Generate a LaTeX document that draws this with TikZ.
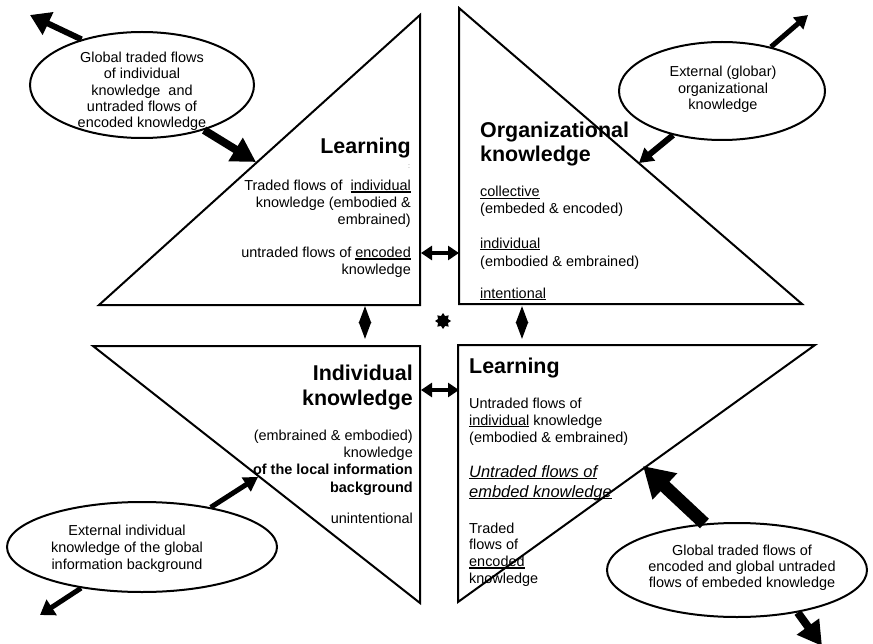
\documentclass[tikz,border=0pt]{standalone}
\usepackage{fontspec}
\setmainfont{Liberation Sans}
\usetikzlibrary{arrows.meta,shapes.geometric}
\newcommand\uln[1]{\setbox0\hbox{#1}\rlap{\rule[-2.4bp]{\wd0}{1.5bp}}\box0\relax}
\begin{document}
\begin{tikzpicture}[x=1bp,y=-1bp,
  tri/.style={draw, line width=2bp, fill=white, line join=miter},
  ell/.style={draw, ellipse, line width=2bp, fill=white, inner sep=0},
  small/.style={font=\fontsize{14.5}{17.3}\selectfont, inner sep=0},
  ttl/.style={font=\fontsize{21.5}{25}\selectfont\bfseries, inner sep=0},
  fat/.style n args={3}{line width=#1, -{Triangle[length=#2,width=#3]}},
  dbl/.style={line width=4bp, {Triangle[length=11bp,width=14bp]}-{Triangle[length=11bp,width=14bp]}},
  vd/.style={line width=2bp, {Triangle[length=17bp,width=12bp]}-{Triangle[length=17bp,width=12bp]}}
]
\useasboundingbox[fill=white] (0,0) rectangle (873,644);

% triangles
\draw[tri] (420,15) -- (420,305) -- (99,305) -- cycle;
\draw[tri] (459,8) -- (459,304) -- (802,304) -- cycle;
\draw[tri] (93,346) -- (420,346) -- (420,603) -- cycle;
\draw[tri] (458,345) -- (815,345) -- (458,602) -- cycle;

% ellipses
\node[ell, minimum width=224bp, minimum height=106bp] (e1) at (142,85) {};
\node[ell, minimum width=206bp, minimum height=98bp] (e2) at (722,91) {};
\node[ell, minimum width=270bp, minimum height=90bp] (e3) at (142,547) {};
\node[ell, minimum width=260bp, minimum height=94bp] (e4) at (737,570) {};

% ellipse texts (anchor base = last line's baseline)
\node[small, font=\fontsize{14.5}{16.5}\selectfont, align=center, anchor=base] (e1t) at (142,128)
  {Global traded flows\\of individual\\knowledge\ \ and\\untraded flows of\\encoded knowledge};
\node[small, font=\fontsize{14.5}{17}\selectfont, align=center, anchor=base] (e2t) at (723,110)
  {External (globar)\\organizational\\knowledge};
\node[small, font=\fontsize{14.5}{17}\selectfont, align=center, anchor=base] (e3t) at (127,569)
  {External individual\\knowledge of the global\\information background};
\node[small, font=\fontsize{14.5}{16}\selectfont, align=center, anchor=base] (e4t) at (742,587)
  {Global traded flows of\\encoded and global untraded\\flows of embeded knowledge};

% top-left triangle texts
\node[ttl, anchor=base east] (tl1) at (411,154) {Learning};
\node[inner sep=0, font=\fontsize{7}{7}\selectfont, text=gray] (tl0) at (409,167) {:};
\node[small, font=\fontsize{14.5}{17.5}\selectfont, align=right, anchor=base east] (tl2) at (411,225)
  {Traded flows of\ \ \uln{individual}\\knowledge (embodied \&\\embrained)};
\node[small, font=\fontsize{14.5}{16.5}\selectfont, align=right, anchor=base east] (tl3) at (411,274)
  {untraded flows of \uln{encoded}\\knowledge};

% top-right triangle texts
\node[ttl, align=left, anchor=base west] (tr1) at (480,162) {Organizational\\knowledge};
\node[small, align=left, anchor=base west] (tr2) at (480,214) {\uln{collective}\\(embeded \& encoded)};
\node[small, font=\fontsize{14.5}{18}\selectfont, align=left, anchor=base west] (tr3) at (480,266) {\uln{individual}\\(embodied \& embrained)};
\node[small, anchor=base west] (tr4) at (480,298) {\uln{intentional}};

% bottom-left triangle texts
\node[ttl, align=right, anchor=base east] (bl1) at (413,405) {Individual\\knowledge};
\node[small, align=right, anchor=base east] (bl2) at (413,492)
  {(embrained \& embodied)\\knowledge\\\textbf{of the local information}\\\textbf{background}};
\node[small, anchor=base east] (bl3) at (413,523) {unintentional};

% bottom-right triangle texts
\node[ttl, anchor=base west] (br1) at (469,373) {Learning};
\node[small, font=\fontsize{14.5}{17}\selectfont, align=left, anchor=base west] (br2) at (469,442)
  {Untraded flows of\\\uln{individual} knowledge\\(embodied \& embrained)};
\node[small, font=\fontsize{16.5}{20}\selectfont\itshape, align=left, anchor=base west] (br3) at (469,497)
  {\uln{Untraded flows of}\\\uln{embded knowledge}};
\node[small, font=\fontsize{14.5}{16.7}\selectfont, align=left, anchor=base west] (br4) at (469,583)
  {Traded\\flows of\\\uln{encoded}\\knowledge};

% arrow end points
\coordinate (t1) at (30,15);
\coordinate (t2) at (256,162);
\coordinate (t3) at (808,15);
\coordinate (t4) at (639,163);
\coordinate (t5) at (258,477);
\coordinate (t6) at (40,615);
\coordinate (t7) at (643,466);
\coordinate (t8) at (822,646);

\draw[fat={6bp}{20bp}{24bp}] (e1.143) -- (t1);
\draw[fat={8bp}{24bp}{26bp}] (e1.-36) -- (t2);
\draw[fat={5bp}{13bp}{15bp}] (e2.42) -- (t3);
\draw[fat={6bp}{14bp}{16bp}] (e2.222) -- (t4);
\draw[fat={5bp}{14bp}{16bp}] (e3.30) -- (t5);
\draw[fat={5bp}{14bp}{18bp}] (e3.214) -- (t6);
\draw[fat={13bp}{30bp}{34bp}] (e4.125) -- (t7);
\draw[fat={8bp}{24bp}{26bp}] (e4.-35) -- (t8);

% centre connectors
\coordinate (c1l) at (421,253);
\coordinate (c1r) at (459,253);
\coordinate (c2l) at (421,390);
\coordinate (c2r) at (459,390);
\coordinate (v1t) at (365,306);
\coordinate (v1b) at (365,339);
\coordinate (v2t) at (522,306);
\coordinate (v2b) at (522,339);
\draw[dbl] (c1l) -- (c1r);
\draw[dbl] (c2l) -- (c2r);
\draw[vd] (v1t) -- (v1b);
\draw[vd] (v2t) -- (v2b);
\node[star, star points=8, star point ratio=1.5, fill=black, minimum size=16bp, inner sep=0] (hub) at (443,321) {};
\end{tikzpicture}
\end{document}
